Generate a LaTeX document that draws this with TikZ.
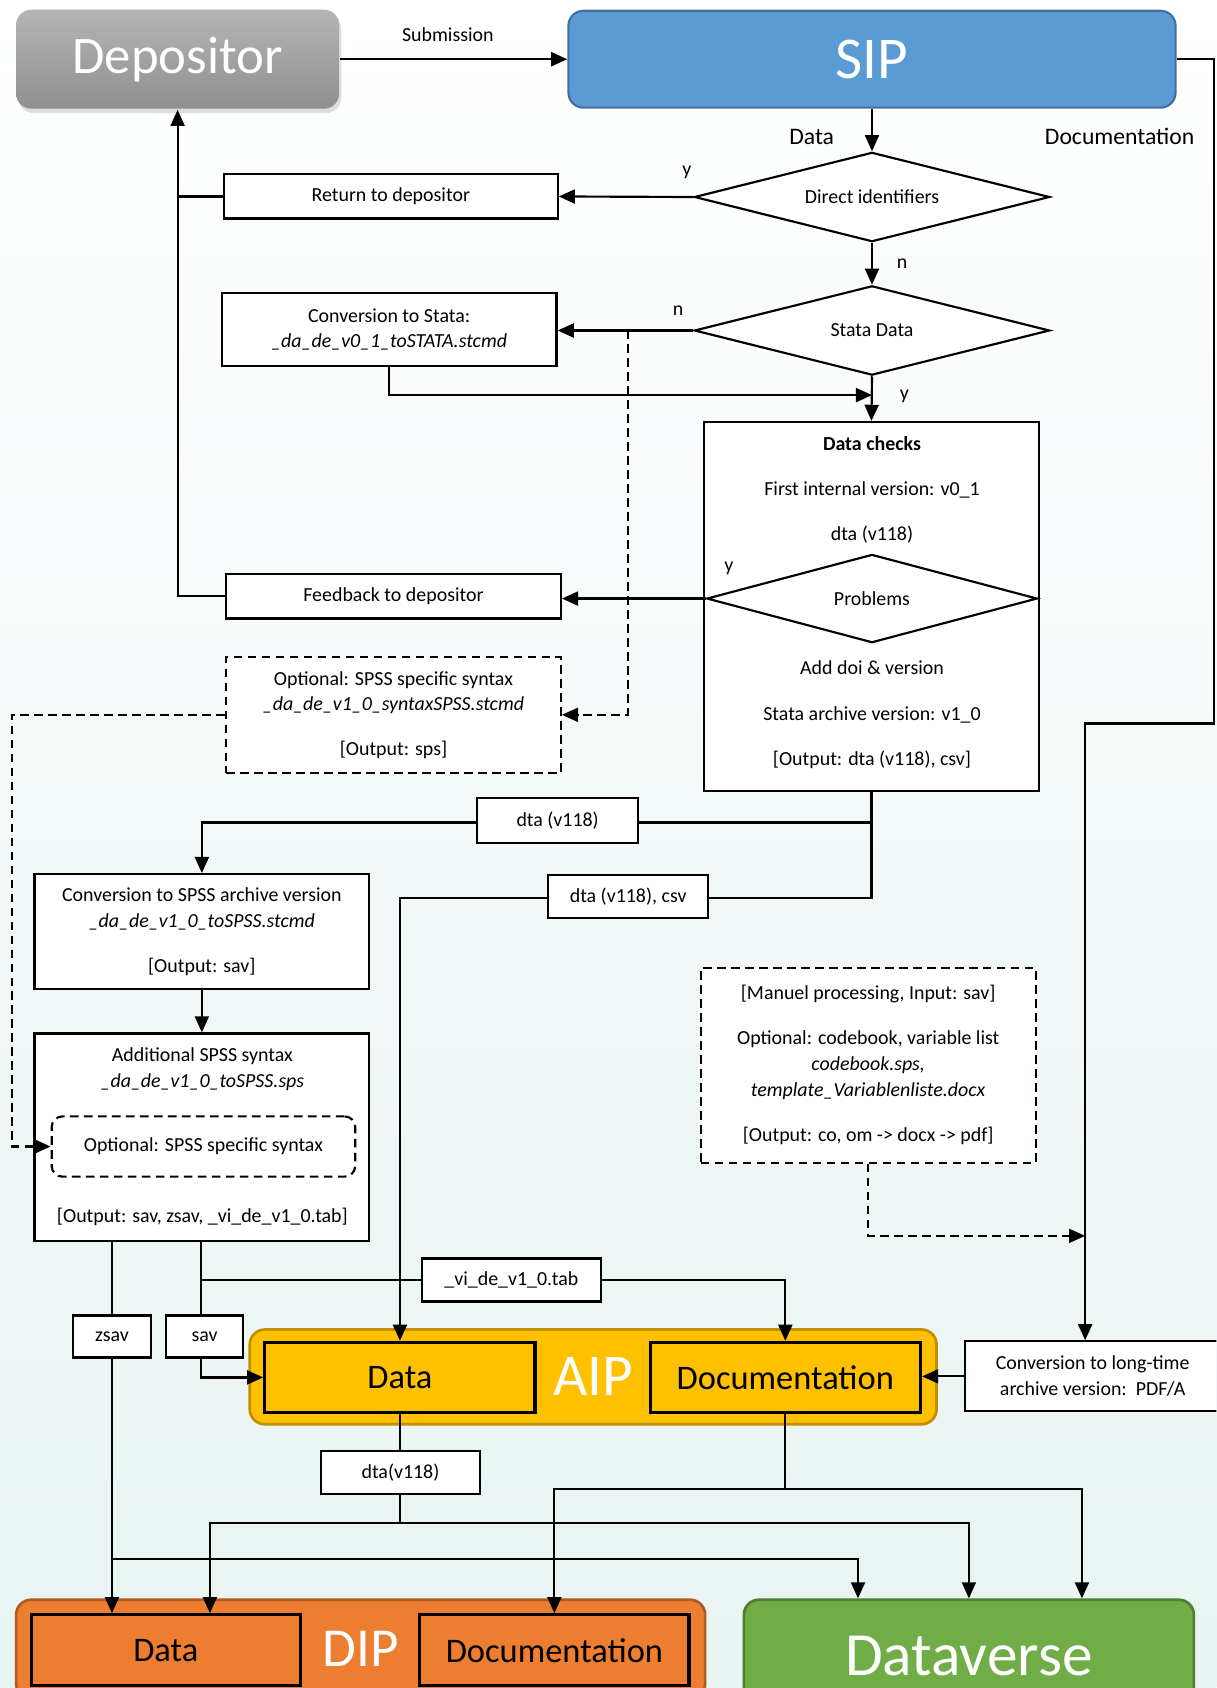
\documentclass[tikz,border=0pt]{standalone}
\usepackage{fontspec}
\setmainfont{Carlito}
\usetikzlibrary{arrows.meta, shapes.geometric, shadows}

\definecolor{bgteal}{HTML}{E8F3F2}
\definecolor{depgraytop}{HTML}{B5B5B5}
\definecolor{depgraybot}{HTML}{8F8F8F}
\definecolor{sipblue}{HTML}{5B9BD5}
\definecolor{sipedge}{HTML}{41719C}
\definecolor{aipgold}{HTML}{FFC000}
\definecolor{aipedge}{HTML}{BF9000}
\definecolor{diporange}{HTML}{ED7D31}
\definecolor{dipedge}{HTML}{AE5A21}
\definecolor{dvgreen}{HTML}{70AD47}
\definecolor{dvedge}{HTML}{507E32}

\begin{document}
\begin{tikzpicture}[
                    x=1pt, y=-1pt,
                    line width=2pt,
                    every node/.style={font=\fontsize{18.5}{24}\selectfont},
                    arr/.style={-{Triangle[length=15pt,width=13pt]}},
                    dasharr/.style={arr, dash pattern=on 8pt off 5pt},
                    box/.style={draw, fill=white, align=center, inner sep=0pt},
                    dashbox/.style={box, dash pattern=on 8pt off 5pt},
                    decision/.style={draw, fill=white, diamond, aspect=4, inner sep=0pt, minimum width=330pt, minimum height=83pt},
                    package/.style={rounded corners=14pt, text=white, inner sep=0pt},
                    part/.style={draw=black, line width=3pt, inner sep=0pt, font=\fontsize{32}{36}\selectfont}
                ]
                  \clip (0,0) rectangle (1130,1568);
                  \fill[top color=white, middle color=white, bottom color=bgteal] (0,0) rectangle (1130,1568);

                  \node[package, top color=depgraytop, bottom color=depgraybot,
                        drop shadow={opacity=0.25, shadow xshift=2pt, shadow yshift=-4pt},
                        minimum width=300pt, minimum height=92pt, font=\fontsize{49}{52}\selectfont] (depositor) at (165,55) {Depositor};
                  \node[package, fill=sipblue, draw=sipedge, minimum width=564pt, minimum height=90pt,
                        font=\fontsize{55}{60}\selectfont] (sip) at (810,55) {SIP};
                  \node (sublbl) at (416,32) {Submission};
                  \node[font=\fontsize{22}{26}\selectfont] (datalbl) at (754,127) {Data};
                  \node[font=\fontsize{22}{26}\selectfont] (doclbl) at (1040,127) {Documentation};

                  \node[decision] (directid) at (810,183) {Direct identifiers};
                  \node[box, minimum width=310pt, minimum height=41pt] (retbox) at (363,182.5) {Return to depositor};
                  \node[decision] (statadata) at (810,307) {Stata Data};
                  \node[box, minimum width=311pt, minimum height=68pt] (convstata) at (361.5,306)
                    {Conversion to Stata:\\ \textit{\_da\_de\_v0\_1\_toSTATA.stcmd}};

                  \node[box, minimum width=311pt, minimum height=343pt] (datachecks) at (809.5,563.5) {};
                  \node[align=center] (chkhead) at (810,455)
                    {\textbf{Data checks}\\[18pt]First internal version: v0\_1\\[18pt]dta (v118)};
                  \node[decision, minimum width=307pt, minimum height=82pt] (problems) at (810,556) {Problems};
                  \node[align=center] (chkfoot) at (810,664)
                    {Add doi \& version\\[18pt]Stata archive version: v1\_0\\[18pt][Output: dta (v118), csv]};
                  \node[box, minimum width=311pt, minimum height=41pt] (feedback) at (365.5,554) {Feedback to depositor};
                  \node[dashbox, minimum width=311pt, minimum height=108pt] (optspss) at (365.5,664)
                    {Optional: SPSS specific syntax\\ \textit{\_da\_de\_v1\_0\_syntaxSPSS.stcmd}\\[17pt][Output: sps]};

                  \node[box, minimum width=311pt, minimum height=107pt] (convspss) at (187.5,865.5)
                    {Conversion to SPSS archive version\\ \textit{\_da\_de\_v1\_0\_toSPSS.stcmd}\\[18pt][Output: sav]};
                  \node[box, minimum width=311pt, minimum height=193pt] (addspss) at (187.5,1056.5) {};
                  \node[align=center] (addhead) at (188,993)
                    {Additional SPSS syntax\\ \textit{\_da\_de\_v1\_0\_toSPSS.sps}};
                  \node[dashbox, rounded corners=10pt, minimum width=282pt, minimum height=56pt] (optinner) at (189,1065)
                    {Optional: SPSS specific syntax};
                  \node (addout) at (188,1130) {[Output: sav, zsav, \_vi\_de\_v1\_0.tab]};

                  \node[dashbox, minimum width=311pt, minimum height=181pt] (manuel) at (806.5,989.5)
                    {[Manuel processing, Input: sav]\\[18pt]Optional: codebook, variable list\\
                     \textit{codebook.sps,}\\ \textit{template\_Variablenliste.docx}\\[18pt][Output: co, om -> docx -> pdf]};

                  \node[package, fill=aipgold, draw=aipedge, line width=2.5pt, minimum width=638pt, minimum height=88pt,
                        font=\fontsize{55}{60}\selectfont] (aip) at (551,1279) {AIP};
                  \node[part, fill=aipgold, minimum width=251pt, minimum height=65pt] (aipdata) at (371.5,1279.5) {Data};
                  \node[part, fill=aipgold, minimum width=251pt, minimum height=65pt] (aipdoc) at (729.5,1279.5) {Documentation};
                  \node[box, minimum width=238pt, minimum height=65pt] (longconv) at (1015,1278.5)
                    {Conversion to long-time\\ archive version:\ \ PDF/A};

                  \node[package, fill=diporange, draw=dipedge, line width=2.5pt, minimum width=640pt, minimum height=92pt,
                        font=\fontsize{51}{56}\selectfont] (dip) at (335,1532) {DIP};
                  \node[part, fill=diporange, minimum width=250pt, minimum height=66pt] (dipdata) at (154,1533) {Data};
                  \node[part, fill=diporange, minimum width=250pt, minimum height=66pt] (dipdoc) at (515,1533) {Documentation};
                  \node[package, fill=dvgreen, draw=dvedge, line width=2.5pt, minimum width=418pt, minimum height=104pt,
                        font=\fontsize{57}{62}\selectfont] (dataverse) at (900,1538) {Dataverse};

                  \coordinate (docdrop) at (1008,672);
                  \coordinate (nsplit) at (583,307);
                  \coordinate (stmerge) at (810,367);
                  \coordinate (zsavout) at (104,1153);
                  \coordinate (zsavrow) at (104,1448);
                  \coordinate (savout) at (187,1153);
                  \coordinate (tabrow) at (187,1189);

                  \draw[arr] (depositor.east) -- (sip.west);
                  \draw[arr] (sip.south) -- (directid.north);
                  \draw[arr] (sip.east) -| (1128,672) -- (docdrop) -- (docdrop |- longconv.north);
                  \draw[arr] (directid.west) -- (retbox.east);
                  \draw (retbox.west) -- (retbox.west -| depositor.south);
                  \draw[arr] (feedback.west) -| (depositor.south);
                  \draw[arr] (directid.south) -- (statadata.north);
                  \draw[arr] (statadata.west) -- (convstata.east |- statadata.west);
                  \draw[arr] (convstata.south) |- (stmerge);
                  \draw[arr] (statadata.south) -- (datachecks.north);
                  \draw[dasharr] (nsplit) |- (optspss.east);
                  \draw[arr] (problems.west) -- (problems.west -| feedback.east);
                  \draw[dasharr] (optspss.west) -- (11,664) |- (optinner.west);
                  \draw[arr] (datachecks.south) -- ++(0,28) -| (convspss.north);
                  \draw[arr] (datachecks.south) -- ++(0,98) -| (aipdata.north);
                  \draw[arr] (convspss.south) -- (addspss.north);
                  \draw[dasharr] (manuel.south) |- (1008,1148);
                  \draw[arr] (zsavout) -- (zsavout |- dipdata.north);
                  \draw[arr] (zsavrow) -| ([xshift=-103pt]dataverse.north);
                  \draw[arr] (savout) |- (aipdata.west);
                  \draw[arr] (tabrow) -| (aipdoc.north);
                  \draw[arr] (longconv.west) -- (aipdoc.east |- longconv.west);
                  \draw (aipdata.south) -- ++(0,101) coordinate (aiprow);
                  \draw[arr] (aiprow) -| ([xshift=41pt]dipdata.north);
                  \draw[arr] (aiprow) -| (dataverse.north);
                  \draw (aipdoc.south) -- ++(0,70) coordinate (docrow);
                  \draw[arr] (docrow) -| (dipdoc.north);
                  \draw[arr] (docrow) -| ([xshift=105pt]dataverse.north);

                  \node (yret) at (638,160) {y};
                  \node (nstata) at (838,245) {n};
                  \node (nconv) at (630,289) {n};
                  \node (ychecks) at (840,368) {y};
                  \node (yprob) at (677,528) {y};

                  \node[box, minimum width=150pt, minimum height=42pt] (dtatag) at (518,762) {dta (v118)};
                  \node[box, minimum width=149pt, minimum height=40pt] (csvtag) at (583.5,833) {dta (v118), csv};
                  \node[box, minimum width=72pt, minimum height=39pt] (zsavtag) at (104,1241.5) {zsav};
                  \node[box, minimum width=72pt, minimum height=39pt] (savtag) at (190,1241.5) {sav};
                  \node[box, minimum width=166pt, minimum height=40pt] (tabtag) at (475,1189) {\_vi\_de\_v1\_0.tab};
                  \node[box, minimum width=148pt, minimum height=40pt] (dtaout) at (372,1368) {dta(v118)};
                \end{tikzpicture}
\end{document}
